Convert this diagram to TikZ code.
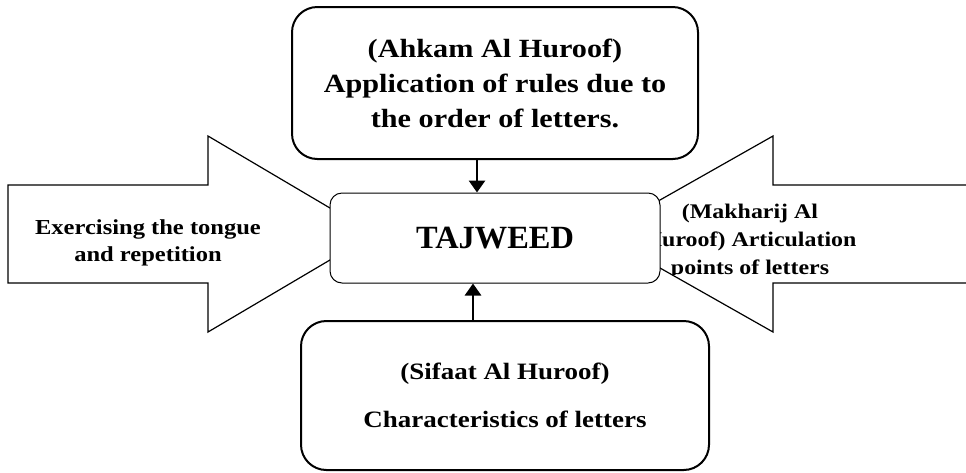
\documentclass[tikz,border=0pt]{standalone}
\usepackage{fontspec}
\setmainfont[FakeStretch=1.15]{Liberation Serif}
\newfontfamily\titlefont{Liberation Serif}
\usetikzlibrary{arrows.meta,calc}
\begin{document}
\begin{tikzpicture}[x=0.75pt,y=-0.75pt,
  bigbox/.style={draw,line width=1.5pt,rounded corners=19pt,fill=white,
    align=center,inner sep=0pt},
  hubbox/.style={draw,line width=0.75pt,rounded corners=9pt,fill=white,
    inner sep=0pt},
  flowarrow/.style={draw,line width=0.9pt,fill=white,line join=miter},
  conn/.style={line width=2.2pt,-{Triangle[length=9pt,width=12pt]}},
  sidetext/.style={align=center,inner sep=0pt}]
\useasboundingbox (0,0) rectangle (966,472);

% side arrows pointing inwards
\draw[flowarrow] (8,185) -- (208,185) -- (208,136) -- (374,234)
  -- (208,332) -- (208,283) -- (8,283) -- cycle;
\draw[flowarrow] (975,185) -- (773,185) -- (773,136) -- (600,234)
  -- (773,332) -- (773,283) -- (975,283);

\node[sidetext,font=\bfseries\fontsize{16}{20.25}\selectfont] (exer) at (148,243)
  {Exercising the tongue\\and repetition};

\begin{scope}
  \clip (600,195) rectangle (966,274);
  \node[sidetext,font=\bfseries\fontsize{15.6}{21}\selectfont] (makh) at (750,241)
    {(Makharij Al\\Huroof) Articulation\\points of letters};
\end{scope}

% centre
\node[hubbox,minimum width=247.5pt,minimum height=67.5pt] (hub) at (495,238)
  {\titlefont\bfseries\fontsize{24.3}{28}\selectfont TAJWEED};

% upper and lower boxes
\node[bigbox,minimum width=304.5pt,minimum height=114pt,
  font=\bfseries\fontsize{19.7}{26.25}\selectfont] (ahkam) at (495,83)
  {(Ahkam Al Huroof)\\Application of rules due to\\the order of letters.};
\node[bigbox,minimum width=306pt,minimum height=111.75pt,
  font=\bfseries\fontsize{17.6}{22}\selectfont] (sifaat) at (505,395.5)
  {(Sifaat Al Huroof)\\[14pt]Characteristics of letters};

% connectors
\coordinate (downx) at (477,0);
\coordinate (upx) at (473,0);
\draw[conn] (ahkam.south -| downx) -- (hub.north -| downx);
\draw[conn] (sifaat.north -| upx) -- (hub.south -| upx);
\end{tikzpicture}
\end{document}
